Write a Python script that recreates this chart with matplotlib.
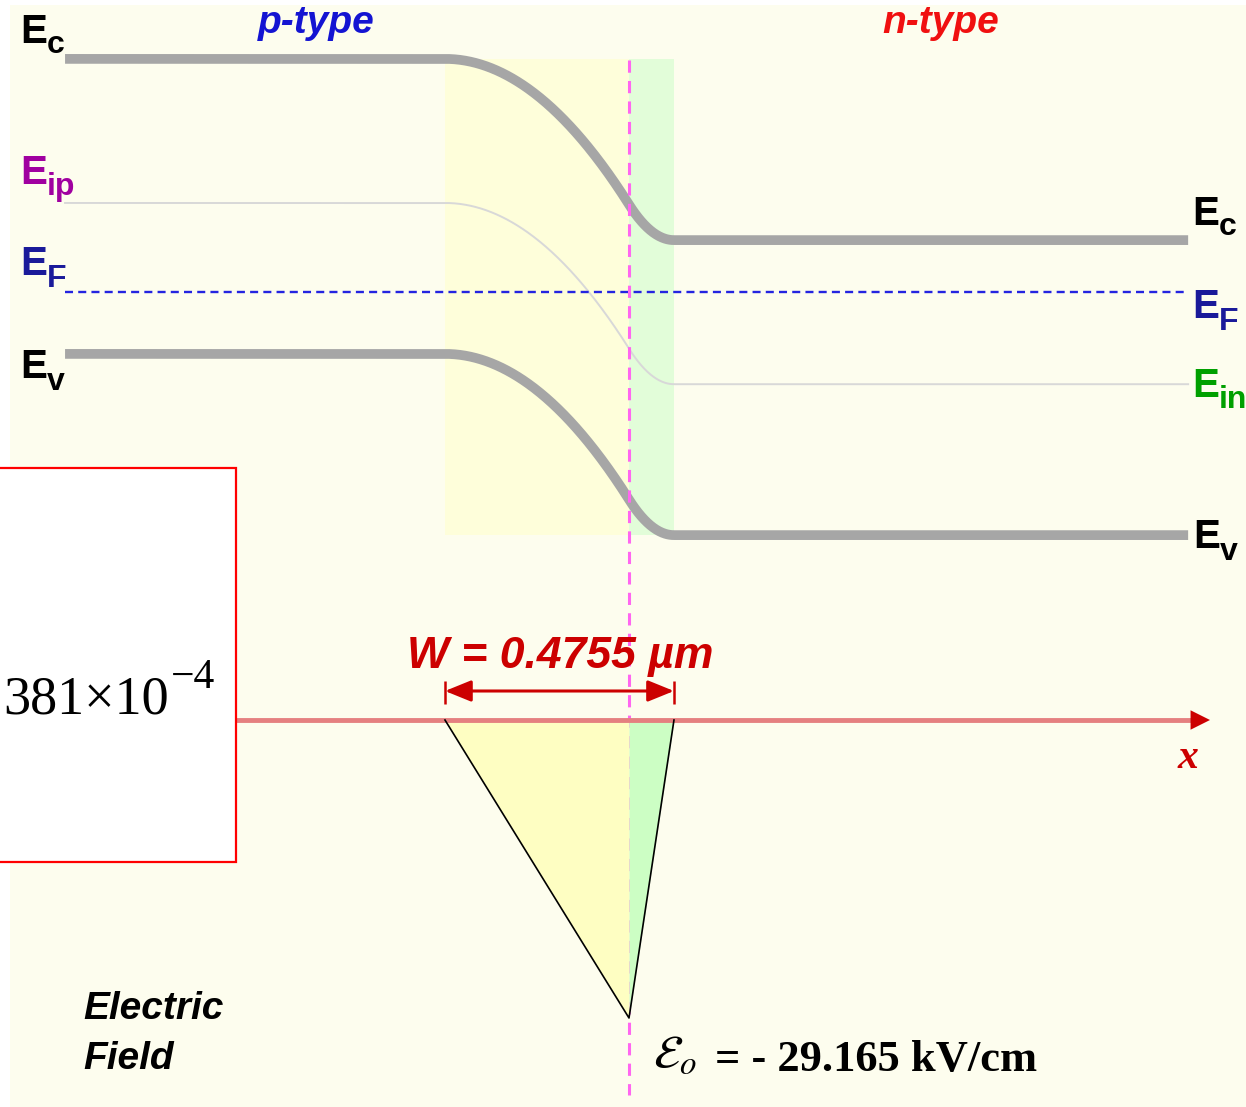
import numpy as np
import matplotlib.pyplot as plt
from matplotlib.patches import Rectangle
from matplotlib import transforms

# depletion region (um) and peak field (kV/cm)
W_UM = 0.4755
XN_UM = 0.0934
XP_UM = W_UM - XN_UM
E_PEAK = -29.165

# band edges relative to E_F (eV)
E_GAP = 1.12
EC_P = 0.885
EC_N = 0.197
EI_P = 0.338
V_BI = EC_P - EC_N
EI_N = EI_P - V_BI
EV_P = EC_P - E_GAP
EV_N = EC_N - E_GAP
BAND_X = (-1.171, 1.161)

# layout in pixels
FIG_W, FIG_H = 1246, 1107
X0_PX = 629
UM_PX = 229 / W_UM
EV_PX = 263.4
EF_PX = 292
KV_PX = 298 / abs(E_PEAK)
AXIS_PX = 720
SPLIT_PX = 600

BG = '#FDFDEE'
BAND = '#A6A6A6'
DARK_RED = '#CC0000'
SANS = 'Liberation Sans'
SERIF = 'Liberation Serif'


def fpx(x, y):
    return x / FIG_W, 1 - y / FIG_H


def bend(x):
    # fraction of the built-in potential dropped at x (depletion approximation)
    f = np.zeros_like(x)
    p = (x > -XP_UM) & (x <= 0)
    f[p] = (x[p] + XP_UM) ** 2 / (XP_UM * W_UM)
    n = (x > 0) & (x < XN_UM)
    f[n] = 1 - (XN_UM - x[n]) ** 2 / (XN_UM * W_UM)
    f[x >= XN_UM] = 1
    return f


def band_label(x, y, sub, color, dy=11):
    fig.text(*fpx(x, y), 'E', fontsize=29, color=color, family=SANS,
             weight='bold', va='baseline')
    fig.text(*fpx(x + 27, y + dy), sub, fontsize=23, color=color, family=SANS,
             weight='bold', va='baseline')


fig = plt.figure(figsize=(FIG_W / 100, FIG_H / 100), dpi=100)
fig.patch.set_facecolor('white')
fig.add_artist(Rectangle(fpx(10, FIG_H), 1, 1 - 5 / FIG_H, transform=fig.transFigure,
                         fc=BG, ec='none', zorder=-10))

ax_b = fig.add_axes([0, 1 - SPLIT_PX / FIG_H, 1, SPLIT_PX / FIG_H])
ax_f = fig.add_axes([0, 0, 1, 1 - SPLIT_PX / FIG_H])
xlim = (-X0_PX / UM_PX, (FIG_W - X0_PX) / UM_PX)
ax_b.set_ylim(-(SPLIT_PX - EF_PX) / EV_PX, EF_PX / EV_PX)
ax_f.set_ylim(-(FIG_H - AXIS_PX) / KV_PX, (AXIS_PX - SPLIT_PX) / KV_PX)
for ax in (ax_b, ax_f):
    ax.set_xlim(*xlim)
    ax.axis('off')
    ax.patch.set_visible(False)

# --- band diagram ---
ax_b.add_patch(Rectangle((-XP_UM, EV_N), XP_UM, EC_P - EV_N, fc='#FEFEDA', ec='none'))
ax_b.add_patch(Rectangle((0, EV_N), XN_UM, EC_P - EV_N, fc='#E2FDD9', ec='none'))

x = np.linspace(BAND_X[0], BAND_X[1], 1500)
drop = V_BI * bend(x)
ax_b.plot(x, EI_P - drop, color='#D8D8D8', lw=1.4)
ax_b.plot(x, EC_P - drop, color=BAND, lw=7, solid_capstyle='butt')
ax_b.plot(x, EV_P - drop, color=BAND, lw=7, solid_capstyle='butt')
ef, = ax_b.plot(BAND_X, [0, 0], color='#2424E0', lw=1.7)
ef.set_dashes((3.4, 2.2))

# junction marker across both panels
tr = transforms.blended_transform_factory(ax_b.transData, fig.transFigure)
jl, = ax_b.plot([0, 0], [fpx(0, 60)[1], fpx(0, 1095)[1]], transform=tr,
                color='#FF66F0', lw=2.2, clip_on=False, zorder=5)
jl.set_dashes((4, 2.7))

# --- electric field ---
tri_x = [-XP_UM, 0, XN_UM]
tri_e = [0, E_PEAK, 0]
ax_f.fill_between(tri_x[:2], tri_e[:2], 0, color='#FEFEC2', lw=0)
ax_f.fill_between(tri_x[1:], tri_e[1:], 0, color='#CCFEC4', lw=0)
ax_f.plot(tri_x, tri_e, color='black', lw=1.2, zorder=4)

x_tip = (1210 - X0_PX) / UM_PX
ax_f.plot([xlim[0], x_tip - 0.02], [0, 0], color='#E58080', lw=3.5, zorder=3)
ax_f.annotate('', xy=(x_tip, 0), xytext=(x_tip - 0.04, 0),
              arrowprops=dict(arrowstyle='-|>,head_length=14,head_width=7',
                              mutation_scale=1, color=DARK_RED, lw=0,
                              shrinkA=0, shrinkB=0))

# width dimension
y_dim = (AXIS_PX - 691) / KV_PX
ax_f.annotate('', xy=(XN_UM, y_dim), xytext=(-XP_UM, y_dim),
              arrowprops=dict(arrowstyle='<|-|>,head_length=16,head_width=6.5',
                              mutation_scale=1, color=DARK_RED, lw=2.2,
                              shrinkA=0, shrinkB=0))
ax_f.vlines([-XP_UM, XN_UM], (AXIS_PX - 704) / KV_PX, (AXIS_PX - 681) / KV_PX,
            color=DARK_RED, lw=1.8)

# --- labels ---
band_label(20, 43, 'c', 'black', dy=10)
band_label(20, 184, 'ip', '#A000A0')
band_label(20, 275, 'F', '#1A1A9A', dy=12)
band_label(20, 378, 'v', 'black', dy=12)
band_label(1192, 225, 'c', 'black', dy=10)
band_label(1192, 318, 'F', '#1A1A9A', dy=12)
band_label(1192, 397, 'in', '#00A000')
band_label(1193, 548, 'v', 'black', dy=12)

fig.text(*fpx(316, 33), 'p-type', color='#1414D2', fontsize=28, family=SANS,
         style='italic', weight='bold', ha='center', va='baseline')
fig.text(*fpx(941, 33), 'n-type', color='#F01010', fontsize=28, family=SANS,
         style='italic', weight='bold', ha='center', va='baseline')

fig.text(*fpx(560, 668), 'W = 0.4755 \u00b5m', color=DARK_RED, fontsize=32, family=SANS,
         style='italic', weight='bold', ha='center', va='baseline')
fig.text(*fpx(1188, 768), 'x', color=DARK_RED, fontsize=30, family=SERIF,
         style='italic', weight='bold', ha='center', va='baseline')

fig.text(*fpx(83, 1019), 'Electric', fontsize=28, family=SANS,
         style='italic', weight='bold', va='baseline')
fig.text(*fpx(83, 1069), 'Field', fontsize=28, family=SANS,
         style='italic', weight='bold', va='baseline')

fig.text(*fpx(653, 1068), r'$\mathcal{E}_o$', math_fontfamily='stix', fontsize=34,
         va='baseline')
fig.text(*fpx(715, 1071), '= - 29.165 kV/cm', fontsize=32, family=SERIF,
         weight='bold', va='baseline')

# inset value box
bx0, by0 = fpx(-2, 862)
bx1, by1 = fpx(236, 468)
fig.add_artist(Rectangle((bx0, by0), bx1 - bx0, by1 - by0, transform=fig.transFigure,
                         fc='white', ec='#FF0000', lw=1.6, zorder=6))
fig.text(*fpx(3, 713), '381\u00d710', family=SERIF, fontsize=39, va='baseline', zorder=7)
fig.text(*fpx(171, 688), '\u22124', family=SERIF, fontsize=30, va='baseline', zorder=7)

fig.savefig('out.png', dpi=100)
